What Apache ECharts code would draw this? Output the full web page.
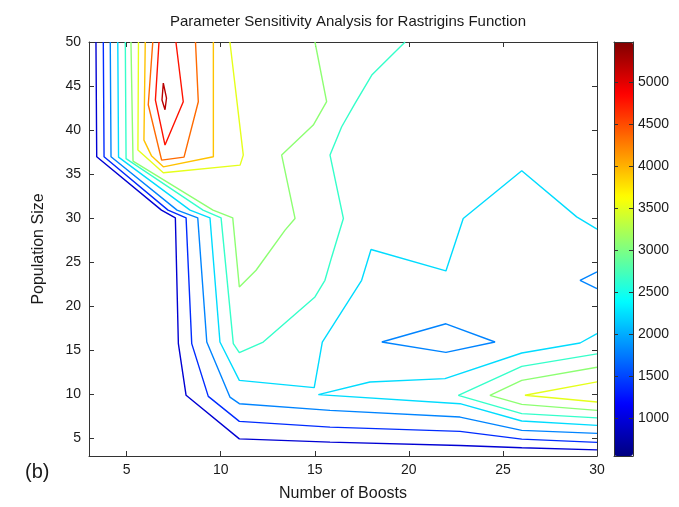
<!DOCTYPE html>
<html><head><meta charset="utf-8">
<script src="https://cdn.jsdelivr.net/npm/echarts@6/dist/echarts.min.js"></script>
<style>html,body{margin:0;padding:0;background:#fff}#c{width:679px;height:507px}</style>
</head><body><div id="c"></div><script>
// ---- data ----
const xRange = [3, 30];
const yRange = [3, 50];
const xTicks = [5, 10, 15, 20, 25, 30];
const yTicks = [5, 10, 15, 20, 25, 30, 35, 40, 45, 50];
const colorRange = [548, 5476];
const colorTicks = [1000, 1500, 2000, 2500, 3000, 3500, 4000, 4500, 5000];
const levels = [950, 1375, 1800, 2225, 2650, 3075, 3500, 3925, 4350, 4775, 5200];

// contour polylines [boosts, population]
const c950 = [[3.37,50],[3.41,36.97],[6.85,30.91],[7.59,30.03],[7.75,15.76],[8.16,9.89],[10.99,4.94],[15.81,4.58],[22.72,4.20],[26.00,3.94],[30,3.69]];
const c1375 = [[3.76,50],[3.80,36.97],[7.20,30.91],[8.16,30.03],[8.46,15.76],[9.34,9.77],[10.99,6.93],[15.81,6.28],[22.72,5.80],[26.00,4.92],[30,4.55]];
const c1800 = [[4.13,50],[4.17,36.97],[7.68,30.91],[8.78,30.03],[9.26,15.94],[10.49,9.69],[10.99,8.94],[15.81,8.18],[22.72,7.42],[26.00,5.91],[30,5.57]];
const c1800_island = [[18.56,15.94],[21.97,18.01],[24.58,15.94],[21.97,14.77],[18.56,15.94]];
const c1800_edge = [[30,23.90],[29.10,22.95],[30,22.01]];
const c2225 = [[4.53,50],[4.57,36.93],[8.37,30.91],[9.43,30.03],[9.96,15.94],[10.99,11.59],[14.97,10.76],[15.40,15.94],[17.49,22.95],[17.99,26.44],[21.97,24.01],[22.89,29.97],[26.00,35.38],[28.92,30.15],[30,28.75]];
const c2225_ridge = [[30,16.90],[29.10,15.83],[26.00,14.69],[21.92,11.78],[17.93,11.40],[15.19,9.97],[22.72,8.94],[26.00,6.97],[30,6.48]];
const c2650 = [[4.93,50],[4.97,36.76],[9.06,30.91],[10.02,30.03],[10.67,15.76],[10.99,14.74],[12.26,15.94],[15.01,21.06],[15.54,22.95],[15.90,25.60],[16.52,29.97],[15.81,37.16],[16.43,40.38],[17.14,43.03],[18.03,46.25],[19.80,50]];
const c2650_ridge = [[30,14.60],[26.00,13.18],[22.63,9.89],[26.00,7.81],[30,7.33]];
const c3075 = [[5.23,50],[5.34,36.48],[9.59,30.91],[10.64,30.03],[10.99,22.19],[11.88,24.09],[13.42,28.64],[13.95,29.97],[13.24,37.16],[14.92,40.57],[15.63,43.22],[15.01,50]];
const c3075_ridge = [[30,13.07],[26.00,11.59],[24.31,9.89],[26.00,8.86],[30,8.18]];
const c3500 = [[5.63,50],[5.60,37.73],[6.95,35.15],[11.03,36.02],[11.20,37.16],[10.49,50]];
const c3500_ridge = [[30,11.42],[26.17,9.89],[30,9.13]];
const c3925 = [[5.99,50],[5.92,38.86],[6.33,37.05],[6.95,35.83],[9.61,36.97],[9.61,50]];
const c4350 = [[6.39,50],[6.15,42.88],[6.86,36.59],[8.05,36.93],[8.81,43.22],[8.66,50]];
const c4775 = [[6.72,50],[6.53,43.41],[7.04,38.30],[8.01,43.22],[7.62,50]];
const c5200 = [[6.95,45.34],[7.12,43.64],[7.04,42.31],[6.88,43.41],[6.95,45.34]];

const contourSets = [
  [levels[0], [c950]],
  [levels[1], [c1375]],
  [levels[2], [c1800, c1800_island, c1800_edge]],
  [levels[3], [c2225, c2225_ridge]],
  [levels[4], [c2650, c2650_ridge]],
  [levels[5], [c3075, c3075_ridge]],
  [levels[6], [c3500, c3500_ridge]],
  [levels[7], [c3925]],
  [levels[8], [c4350]],
  [levels[9], [c4775]],
  [levels[10], [c5200]]
];

// ---- styling ----
function clamp(v){return Math.max(0, Math.min(1, v));}
function jet(t){
  const r = clamp(Math.min(4*t-1.5, -4*t+4.5));
  const g = clamp(Math.min(4*t-0.5, -4*t+3.5));
  const b = clamp(Math.min(4*t+0.5, -4*t+2.5));
  return 'rgb(' + Math.round(r*255) + ',' + Math.round(g*255) + ',' + Math.round(b*255) + ')';
}
const jetStops = [];
for (let i = 0; i <= 16; i++) jetStops.push(jet(i/16));

const FONT = 'Liberation Sans, Arial, Helvetica, sans-serif';
const TXT = '#1a1a1a';
const AX = '#333';
const plain = function(v){ return String(v); };

const series = [];
contourSets.forEach(function(set){
  const lev = set[0];
  const col = jet((lev - colorRange[0]) / (colorRange[1] - colorRange[0]));
  set[1].forEach(function(line){
    series.push({
      type: 'line', xAxisIndex: 0, yAxisIndex: 0, data: line,
      showSymbol: false, symbol: 'none', silent: true, animation: false,
      lineStyle: {color: col, width: 1.4}, z: 3
    });
  });
});
series.push({type: 'scatter', xAxisIndex: 2, yAxisIndex: 2, data: [], silent: true});
const dummyIdx = series.length - 1;

const baseAxis = {
  axisLine: {show: true, onZero: false, lineStyle: {color: AX, width: 1}},
  splitLine: {show: false}
};

const chart = echarts.init(document.getElementById('c'), null, {renderer: 'canvas'});
chart.setOption({
  backgroundColor: '#fff',
  animation: false,
  title: [
    {text: 'Parameter Sensitivity Analysis for Rastrigins Function', left: 343, top: 9, textAlign: 'center',
     textStyle: {fontFamily: FONT, fontSize: 15, fontWeight: 'normal', color: TXT}},
    {text: '(b)', left: 20, top: 457, textStyle: {fontFamily: FONT, fontSize: 20, fontWeight: 'normal', color: TXT}}
  ],
  grid: [
    {left: 89, top: 42, width: 508, height: 414, show: false, outerBoundsMode: 'none'},
    {left: 614, top: 42, width: 19, height: 414, show: false, outerBoundsMode: 'none'}
  ],
  xAxis: [
    Object.assign({}, baseAxis, {type: 'value', gridIndex: 0, position: 'bottom', min: xRange[0], max: xRange[1],
      name: 'Number of Boosts', nameLocation: 'middle', nameGap: 30,
      nameTextStyle: {fontFamily: FONT, fontSize: 16, color: TXT},
      axisTick: {show: true, inside: true, length: 5, customValues: xTicks, lineStyle: {color: AX}},
      axisLabel: {show: true, customValues: xTicks, formatter: plain, fontFamily: FONT, fontSize: 14, color: TXT, margin: 7}}),
    Object.assign({}, baseAxis, {type: 'value', gridIndex: 0, position: 'top', min: xRange[0], max: xRange[1],
      axisTick: {show: true, inside: true, length: 5, customValues: xTicks, lineStyle: {color: AX}},
      axisLabel: {show: false}}),
    Object.assign({}, baseAxis, {type: 'value', gridIndex: 1, position: 'bottom', min: 0, max: 1, z: 10,
      axisTick: {show: false}, axisLabel: {show: false}}),
    Object.assign({}, baseAxis, {type: 'value', gridIndex: 1, position: 'top', min: 0, max: 1, z: 10,
      axisTick: {show: false}, axisLabel: {show: false}})
  ],
  yAxis: [
    Object.assign({}, baseAxis, {type: 'value', gridIndex: 0, position: 'left', min: yRange[0], max: yRange[1],
      name: 'Population Size', nameLocation: 'middle', nameGap: 42, nameRotate: 90,
      nameTextStyle: {fontFamily: FONT, fontSize: 16, color: TXT},
      axisTick: {show: true, inside: true, length: 5, customValues: yTicks, lineStyle: {color: AX}},
      axisLabel: {show: true, customValues: yTicks, formatter: plain, fontFamily: FONT, fontSize: 14, color: TXT, margin: 8}}),
    Object.assign({}, baseAxis, {type: 'value', gridIndex: 0, position: 'right', min: yRange[0], max: yRange[1],
      axisTick: {show: true, inside: true, length: 5, customValues: yTicks, lineStyle: {color: AX}},
      axisLabel: {show: false}}),
    Object.assign({}, baseAxis, {type: 'value', gridIndex: 1, position: 'right', min: colorRange[0], max: colorRange[1], z: 10,
      axisTick: {show: true, inside: true, length: 4, customValues: colorTicks, lineStyle: {color: AX}},
      axisLabel: {show: true, customValues: colorTicks, formatter: plain, fontFamily: FONT, fontSize: 14, color: TXT, margin: 5}}),
    Object.assign({}, baseAxis, {type: 'value', gridIndex: 1, position: 'left', min: colorRange[0], max: colorRange[1], z: 10,
      axisTick: {show: true, inside: true, length: 4, customValues: colorTicks, lineStyle: {color: AX}},
      axisLabel: {show: false}})
  ],
  visualMap: {
    type: 'continuous', seriesIndex: dummyIdx, min: colorRange[0], max: colorRange[1],
    orient: 'vertical', left: 614, top: 42, itemWidth: 19, itemHeight: 414, padding: 0,
    calculable: false, hoverLink: false, realtime: false, text: null, showLabel: false,
    inRange: {color: jetStops}, z: 4
  },
  series: series
});
</script></body></html>
